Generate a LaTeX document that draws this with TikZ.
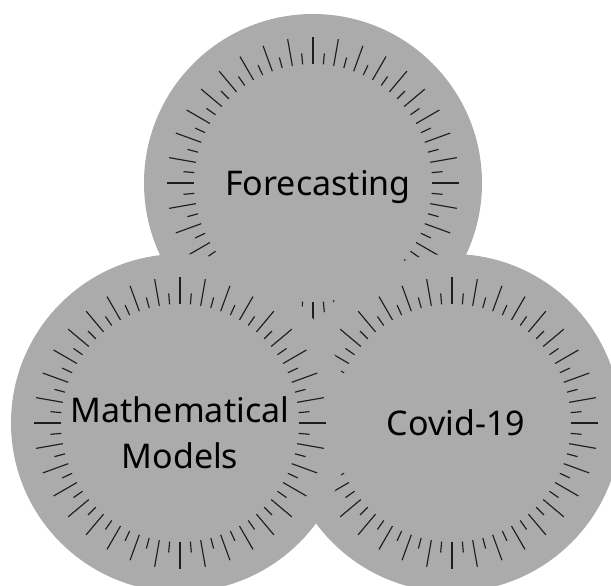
\documentclass[tikz,border=0pt]{standalone}
\usepackage{fontspec}
\setmainfont{Noto Sans}
\definecolor{dialgray}{RGB}{171,171,171}
\definecolor{tickgray}{RGB}{30,30,30}

\begin{document}
\begin{tikzpicture}[
        x = 1pt, y = -1pt,
        dial/.style = {circle, fill = dialgray, minimum size = 338pt, inner sep = 0pt},
        lbl/.style = {inner sep = 0pt, align = center, font = \fontsize{34}{46}\selectfont},
        tick/.style = {draw = tickgray, line width = 1.15pt}
    ]
        \useasboundingbox (0,0) rectangle (611,586);
        \node[dial] (fc) at (313,183) {};
        \node[lbl] (fclbl) at ([xshift=5pt, yshift=-4pt]fc.center) {Forecasting};
        \foreach \a in {0,10,...,350} \draw[tick] (fc.center) ++(\a:119) -- ++(\a:27);
        \foreach \a in {5,15,...,355} \draw[tick] (fc.center) ++(\a:119) -- ++(\a:11);
        \node[dial] (cv) at (452,423) {};
        \node[lbl] (cvlbl) at ([xshift=4pt]cv.center) {Covid-19};
        \foreach \a in {0,10,...,350} \draw[tick] (cv.center) ++(\a:119) -- ++(\a:27);
        \foreach \a in {5,15,...,355} \draw[tick] (cv.center) ++(\a:119) -- ++(\a:11);
        \node[dial] (mm) at (180,423) {};
        \node[lbl] (mmlbl) at ([yshift=-10pt]mm.center) {Mathematical\\Models};
        \foreach \a in {0,10,...,350} \draw[tick] (mm.center) ++(\a:119) -- ++(\a:27);
        \foreach \a in {5,15,...,355} \draw[tick] (mm.center) ++(\a:119) -- ++(\a:11);
    \end{tikzpicture}
\end{document}
